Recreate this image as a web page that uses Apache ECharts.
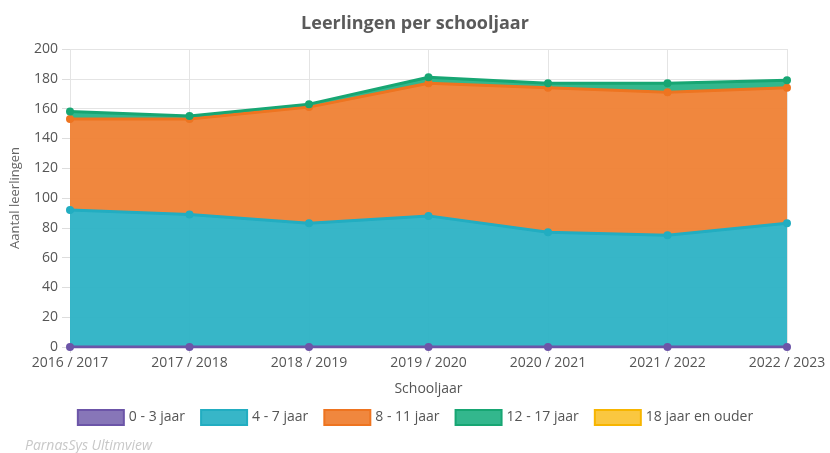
<!DOCTYPE html>
<html>
<head>
<meta charset="utf-8">
<script src="https://cdn.jsdelivr.net/npm/echarts@6/dist/echarts.min.js"></script>
<style>
  html, body { margin: 0; padding: 0; background: #fff; }
  #chart { width: 830px; height: 453px; }
</style>
</head>
<body>
<div id="chart"></div>
<script>
var schooljaren = ['2016 / 2017', '2017 / 2018', '2018 / 2019', '2019 / 2020', '2020 / 2021', '2021 / 2022', '2022 / 2023'];
var jaar0tot3 = [0, 0, 0, 0, 0, 0, 0];
var jaar4tot7 = [92, 89, 83, 88, 77, 75, 83];
var jaar8tot11 = [61, 64, 78, 89, 97, 96, 91];
var jaar12tot17 = [5, 2, 2, 4, 3, 6, 5];
var jaar18plus = [];

var groepen = [
    { name: '0 - 3 jaar', data: jaar0tot3, line: '#6c55a8', fill: 'rgba(125,106,178,0.92)' },
    { name: '4 - 7 jaar', data: jaar4tot7, line: '#22adc1', fill: 'rgba(43,177,197,0.94)' },
    { name: '8 - 11 jaar', data: jaar8tot11, line: '#ee7420', fill: 'rgba(239,128,50,0.94)' },
    { name: '12 - 17 jaar', data: jaar12tot17, line: '#17a673', fill: 'rgba(38,178,134,0.94)' },
    { name: '18 jaar en ouder', data: jaar18plus, line: '#f7b500', fill: 'rgba(250,196,52,0.94)' }
];

var font = '"Open Sans", "DejaVu Sans", sans-serif';

var series = groepen.map(function(g, i) {
    return {
        name: g.name,
        type: 'line',
        stack: 'totaal',
        data: g.data,
        symbol: 'circle',
        symbolSize: 8,
        z: i === 0 ? 5 : 2,
        lineStyle: { color: g.line, width: 3 },
        itemStyle: { color: g.line },
        areaStyle: { color: g.fill, opacity: 1 }
    };
});

var chart = echarts.init(document.getElementById('chart'));
chart.setOption({
    animation: false,
    title: {
        text: 'Leerlingen per schooljaar',
        left: 'center',
        top: 10,
        textStyle: { fontFamily: font, fontSize: 18, fontWeight: 'bold', color: '#5a5a5a' }
    },
    graphic: [{
        type: 'text',
        left: 25,
        top: 439,
        style: { text: 'ParnasSys Ultimview', font: 'italic 14px ' + font, fill: '#c8c8c8' }
    }],
    legend: {
        top: 404,
        left: 'center',
        icon: 'rect',
        itemWidth: 46,
        itemHeight: 15,
        itemGap: 15,
        textStyle: { fontFamily: font, fontSize: 14, color: '#555' },
        data: groepen.map(function(g) {
            return { name: g.name, itemStyle: { color: g.fill, borderColor: g.line, borderWidth: 2 } };
        })
    },
    grid: { left: 70, right: 43, top: 49, bottom: 106, outerBoundsMode: 'none' },
    xAxis: {
        type: 'category',
        boundaryGap: false,
        data: schooljaren,
        name: 'Schooljaar',
        nameLocation: 'middle',
        nameGap: 35,
        nameTextStyle: { fontFamily: font, fontSize: 14, color: '#555' },
        axisLine: { show: false },
        axisTick: { show: true, length: 6, lineStyle: { color: '#ddd' } },
        axisLabel: { fontFamily: font, fontSize: 14, color: '#555', margin: 9 },
        splitLine: { show: true, lineStyle: { color: '#e4e4e4' } }
    },
    yAxis: {
        type: 'value',
        min: 0,
        max: 200,
        interval: 20,
        name: 'Aantal leerlingen',
        nameLocation: 'middle',
        nameGap: 48,
        nameTextStyle: { fontFamily: font, fontSize: 13, color: '#666' },
        axisLine: { show: false },
        axisTick: { show: true, length: 8, lineStyle: { color: '#ddd' } },
        axisLabel: { fontFamily: font, fontSize: 14, color: '#555', margin: 12 },
        splitLine: { lineStyle: { color: '#e4e4e4' } }
    },
    series: series
});
</script>
</body>
</html>
